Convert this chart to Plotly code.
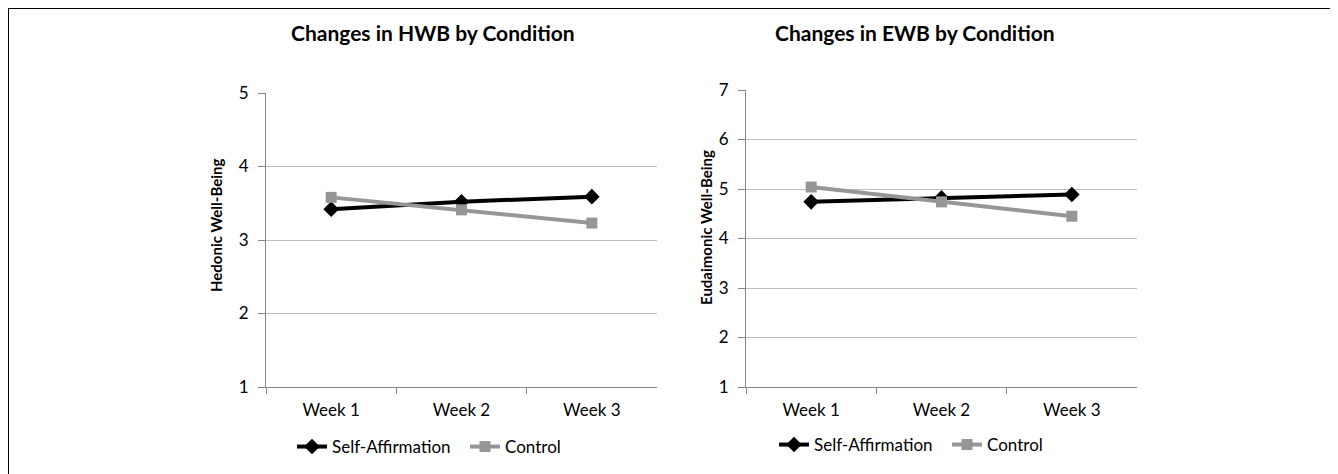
import plotly.graph_objects as go

weeks = ["Week 1", "Week 2", "Week 3"]
hwb_self_affirmation = [3.42, 3.52, 3.59]
hwb_control = [3.58, 3.41, 3.23]
ewb_self_affirmation = [4.74, 4.82, 4.89]
ewb_control = [5.04, 4.74, 4.45]

OFF = 8  # page body margin
W, H = 1338 - OFF, 474 - OFF
FONT = "Lato"
BLACK = "#000000"
GRAY = "#969696"

fig = go.Figure()

def add_pair(sa, ctl, xa, ya, leg):
    fig.add_trace(go.Scatter(
        x=weeks, y=sa, name="Self-Affirmation", mode="lines+markers",
        line=dict(color=BLACK, width=4),
        marker=dict(symbol="diamond", size=12, color=BLACK),
        xaxis=xa, yaxis=ya, legend=leg))
    fig.add_trace(go.Scatter(
        x=weeks, y=ctl, name="Control", mode="lines+markers",
        line=dict(color=GRAY, width=4),
        marker=dict(symbol="square", size=11, color=GRAY),
        xaxis=xa, yaxis=ya, legend=leg))

add_pair(hwb_self_affirmation, hwb_control, "x", "y", "legend")
add_pair(ewb_self_affirmation, ewb_control, "x2", "y2", "legend2")

def px_x(p):
    return (p - OFF) / W

def px_y(p):
    return 1 - (p - OFF) / H

axis_common_x = dict(
    type="category", range=[-0.5, 2.5], showgrid=False, showline=True,
    linecolor="#868686", linewidth=1, ticks="outside", tickson="boundaries",
    ticklen=6, tickcolor="#868686", ticklabelstandoff=8,
    tickfont=dict(family=FONT, size=17, color="#000"),
    automargin=False, zeroline=False, fixedrange=True,
)
axis_common_y = dict(
    showgrid=True, gridcolor="#BEBEBE", gridwidth=1, showline=True,
    linecolor="#868686", linewidth=1, ticks="outside", ticklen=7,
    tickcolor="#868686", dtick=1, ticklabelstandoff=6,
    tickfont=dict(family=FONT, size=17, color="#000"),
    automargin=False, zeroline=False, fixedrange=True,
)

leg_common = dict(orientation="h", xanchor="left", yanchor="middle",
                  font=dict(family=FONT, size=17, color="#000"), itemwidth=30,
                  entrywidth=128, entrywidthmode="pixels",
                  bgcolor="rgba(0,0,0,0)", tracegroupgap=0)

fig.update_layout(
    width=W, height=H,
    margin=dict(l=0, r=0, t=0, b=0),
    paper_bgcolor="white", plot_bgcolor="white",
    font=dict(family=FONT, color="#000"),
    xaxis=dict(domain=[px_x(266), px_x(657)], anchor="y", **axis_common_x),
    yaxis=dict(domain=[px_y(387), px_y(93)], anchor="x", range=[1, 5], **axis_common_y),
    xaxis2=dict(domain=[px_x(746), px_x(1137)], anchor="y2", **axis_common_x),
    yaxis2=dict(domain=[px_y(387), px_y(90)], anchor="x2", range=[1, 7], **axis_common_y),
    legend=dict(x=px_x(292), y=px_y(447), **leg_common),
    legend2=dict(x=px_x(774), y=px_y(445), **leg_common),
    annotations=[
        dict(text="<b>Changes in HWB by Condition</b>", x=px_x(433), y=px_y(32),
             xref="paper", yref="paper", xanchor="center", yanchor="middle",
             showarrow=False, font=dict(family=FONT, size=21)),
        dict(text="<b>Changes in EWB by Condition</b>", x=px_x(915), y=px_y(33),
             xref="paper", yref="paper", xanchor="center", yanchor="middle",
             showarrow=False, font=dict(family=FONT, size=21)),
        dict(text="<b>Hedonic Well-Being</b>", x=px_x(216), y=px_y(226),
             xref="paper", yref="paper", xanchor="center", yanchor="middle",
             showarrow=False, textangle=-90, font=dict(family=FONT, size=15)),
        dict(text="<b>Eudaimonic Well-Being</b>", x=px_x(706), y=px_y(228),
             xref="paper", yref="paper", xanchor="center", yanchor="middle",
             showarrow=False, textangle=-90, font=dict(family=FONT, size=15)),
    ],
    shapes=[
        dict(type="line", xref="paper", yref="paper", x0=0, x1=1.0,
             y0=1, y1=1, line=dict(color="#000", width=2)),
        dict(type="line", xref="paper", yref="paper", x0=0, x1=0,
             y0=1, y1=0, line=dict(color="#000", width=2)),
    ],
)

fig.write_html("out.html")
